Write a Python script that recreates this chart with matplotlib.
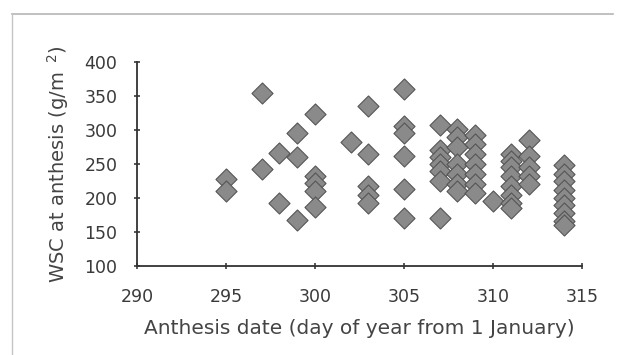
import matplotlib
matplotlib.use('Agg')
import matplotlib.pyplot as plt
from matplotlib.lines import Line2D

# anthesis day and WSC at anthesis
days = [295, 295,
        297, 297,
        298, 298,
        299, 299, 299,
        300, 300, 300, 300, 300,
        302,
        303, 303, 303, 303, 303,
        305, 305, 305, 305, 305, 305,
        307, 307, 307, 307, 307, 307, 307,
        308, 308, 308, 308, 308, 308, 308,
        309, 309, 309, 309, 309, 309, 309,
        310,
        311, 311, 311, 311, 311, 311, 311, 311,
        312, 312, 312, 312, 312,
        314, 314, 314, 314, 314, 314, 314, 314, 314]
wsc = [228, 210,
       354, 243,
       266, 192,
       296, 261, 168,
       324, 233, 222, 210, 186,
       283,
       336, 265, 218, 204, 192,
       360, 306, 295, 262, 213, 170,
       308, 270, 260, 250, 240, 225, 170,
       302, 290, 275, 250, 235, 220, 210,
       292, 280, 265, 250, 235, 220, 208,
       196,
       265, 255, 245, 232, 218, 205, 192, 185,
       285, 262, 245, 232, 220,
       248, 235, 225, 212, 200, 190, 178, 166, 160]

xticks = [290, 295, 300, 305, 310, 315]
yticks = [100, 150, 200, 250, 300, 350, 400]

plt.rcParams['font.family'] = ['DejaVu Sans']

fig = plt.figure(figsize=(6.22, 3.55), dpi=100)
ax = fig.add_axes([0.22, 0.251, 0.716, 0.574])

ax.scatter(days, wsc, marker='D', s=115, color='#8a8a8a',
           edgecolors='#555555', linewidths=0.8, zorder=3)

ax.set_xlim(290, 315)
ax.set_ylim(100, 400)
ax.set_xticks(xticks)
ax.set_yticks(yticks)
ax.tick_params(direction='inout', length=4, width=1.2, labelsize=12.5,
               colors='#3a3a3a')
ax.tick_params(axis='x', pad=14)
ax.tick_params(axis='y', pad=12)
for side in ('top', 'right'):
    ax.spines[side].set_visible(False)
for side in ('left', 'bottom'):
    ax.spines[side].set_linewidth(1.3)
    ax.spines[side].set_color('#333333')

ax.set_xlabel('Anthesis date (day of year from 1 January)', fontsize=14.5,
              color='#444444', labelpad=9)
ax.set_ylabel('WSC at anthesis (g/m$^{\\ \\ 2}$)', fontsize=14,
              color='#444444', labelpad=10)

# scanned frame edges (top and left) around the figure
fig.lines.append(Line2D([0.019, 0.985], [0.96, 0.96], transform=fig.transFigure,
                        color='#b5b5b5', linewidth=1.2))
fig.lines.append(Line2D([0.019, 0.019], [0.0, 0.96], transform=fig.transFigure,
                        color='#c5c5c5', linewidth=1.0))

fig.savefig('out.png', dpi=100)
